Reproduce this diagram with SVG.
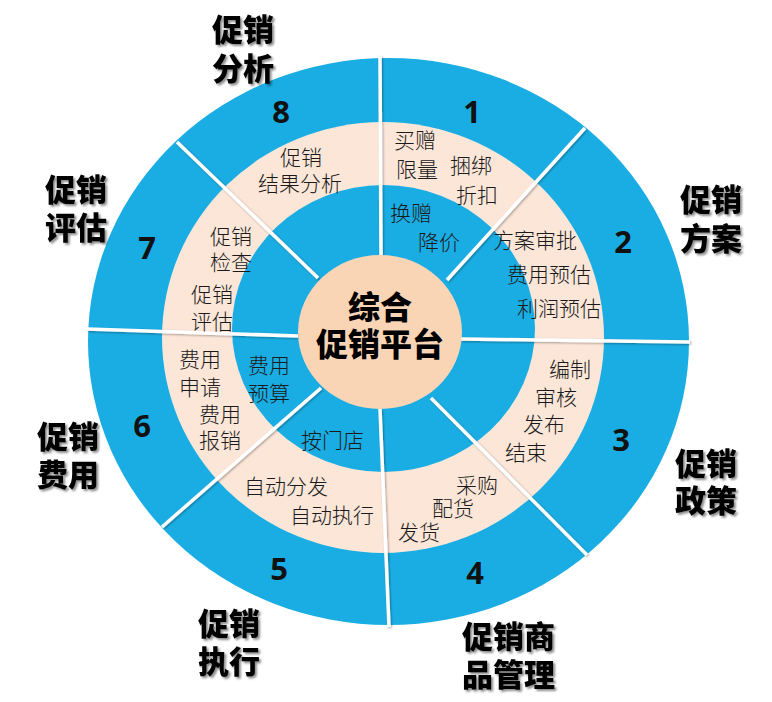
<svg xmlns="http://www.w3.org/2000/svg" width="772" height="702" viewBox="0 0 772 702">
<defs>
<style>
.blue{fill:#1aade3}
.beige{fill:#fbe6d8}
.core{fill:#f9d4b5}
.div{stroke:#ffffff;stroke-width:3.5;stroke-linecap:butt;fill:none}
.sm{font-family:"Liberation Sans","Noto Sans CJK SC",sans-serif;font-size:21px;fill:#1a1a1a;font-weight:300}
.num{font-family:"Open Sans","Liberation Sans",sans-serif;font-size:31px;font-weight:bold;fill:#111111;text-anchor:middle}
.lbl{font-family:"Liberation Sans","Noto Sans CJK SC",sans-serif;font-size:31px;font-weight:900;fill:#000000;filter:url(#sh)}
.ctr{font-family:"Liberation Sans","Noto Sans CJK SC",sans-serif;font-size:32px;font-weight:900;fill:#000000;text-anchor:middle}
</style>
<filter id="sh" x="-20%" y="-20%" width="150%" height="150%">
<feDropShadow dx="2" dy="2" stdDeviation="1.2" flood-color="#000000" flood-opacity="0.45"/>
</filter>
<filter id="lsh" x="-10%" y="-10%" width="120%" height="120%">
<feDropShadow dx="1" dy="1" stdDeviation="0.8" flood-color="#000000" flood-opacity="0.35"/>
</filter>
</defs>
<rect width="772" height="702" fill="#ffffff"/>
<g id="rings">
<ellipse class="blue" cx="388.5" cy="341.5" rx="300.5" ry="283.5"/>
<ellipse class="beige" cx="383" cy="337.5" rx="221" ry="215.5"/>
<ellipse class="blue" cx="383.5" cy="328.5" rx="151.5" ry="143.5"/>
</g>
<g id="connectors" filter="url(#lsh)">
<line class="div" x1="380" y1="56" x2="381" y2="255"/>
<line class="div" x1="585" y1="128" x2="447" y2="280"/>
<line class="div" x1="461" y1="339" x2="690" y2="342"/>
<line class="div" x1="431" y1="398" x2="587" y2="555"/>
<line class="div" x1="380" y1="409" x2="389" y2="627"/>
<line class="div" x1="321" y1="388" x2="162" y2="527"/>
<line class="div" x1="87" y1="329" x2="298" y2="336"/>
<line class="div" x1="177" y1="142" x2="318" y2="278"/>
</g>
<g id="center">
<ellipse class="core" cx="380" cy="332" rx="82" ry="77"/>
<text class="ctr"><tspan x="380" y="319">综合</tspan><tspan x="380" y="356">促销平台</tspan></text>
</g>
<g id="seg1">
<text class="num" x="472" y="123">1</text>
<text class="sm"><tspan x="394" y="148">买赠</tspan><tspan x="396" y="177">限量</tspan></text>
<text class="sm"><tspan x="450" y="173">捆绑</tspan><tspan x="456" y="203">折扣</tspan></text>
<text class="sm"><tspan x="390" y="221">换赠</tspan><tspan x="418" y="250">降价</tspan></text>
</g>
<g id="seg2">
<text class="num" x="623" y="253">2</text>
<text class="lbl"><tspan x="680" y="211">促销</tspan><tspan x="680" y="250">方案</tspan></text>
<text class="sm"><tspan x="493" y="248">方案审批</tspan><tspan x="507" y="282">费用预估</tspan><tspan x="517" y="316">利润预估</tspan></text>
</g>
<g id="seg3">
<text class="num" x="621" y="451">3</text>
<text class="lbl"><tspan x="675" y="475">促销</tspan><tspan x="675" y="512">政策</tspan></text>
<text class="sm"><tspan x="549" y="377">编制</tspan><tspan x="535" y="405">审核</tspan><tspan x="523" y="432">发布</tspan><tspan x="505" y="460">结束</tspan></text>
</g>
<g id="seg4">
<text class="num" x="475" y="584">4</text>
<text class="lbl"><tspan x="462" y="648">促销商</tspan><tspan x="462" y="686">品管理</tspan></text>
<text class="sm"><tspan x="456" y="493">采购</tspan><tspan x="432" y="516">配货</tspan><tspan x="398" y="540">发货</tspan></text>
</g>
<g id="seg5">
<text class="num" x="279" y="580">5</text>
<text class="lbl"><tspan x="198" y="635">促销</tspan><tspan x="198" y="673">执行</tspan></text>
<text class="sm" x="301" y="448">按门店</text>
<text class="sm"><tspan x="244" y="494">自动分发</tspan><tspan x="290" y="523">自动执行</tspan></text>
</g>
<g id="seg6">
<text class="num" x="142" y="437">6</text>
<text class="lbl"><tspan x="37" y="448">促销</tspan><tspan x="37" y="486">费用</tspan></text>
<text class="sm"><tspan x="248" y="373">费用</tspan><tspan x="248" y="401">预算</tspan></text>
<text class="sm"><tspan x="179" y="367">费用</tspan><tspan x="179" y="395">申请</tspan><tspan x="199" y="422">费用</tspan><tspan x="199" y="448">报销</tspan></text>
</g>
<g id="seg7">
<text class="num" x="147" y="259">7</text>
<text class="lbl"><tspan x="45" y="201">促销</tspan><tspan x="45" y="239">评估</tspan></text>
<text class="sm"><tspan x="210" y="244">促销</tspan><tspan x="210" y="270">检查</tspan><tspan x="191" y="302">促销</tspan><tspan x="191" y="329">评估</tspan></text>
</g>
<g id="seg8">
<text class="num" x="281" y="123">8</text>
<text class="lbl"><tspan x="212" y="41">促销</tspan><tspan x="212" y="80">分析</tspan></text>
<text class="sm"><tspan x="280" y="165">促销</tspan><tspan x="258" y="191">结果分析</tspan></text>
</g>
</svg>
